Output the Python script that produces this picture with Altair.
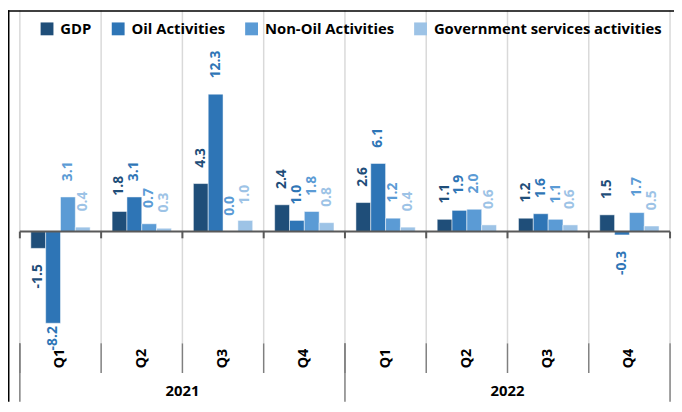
import altair as alt
import pandas as pd

years = ["2021", "2022"]
quarters = ["Q1", "Q2", "Q3", "Q4"]
series = ["GDP", "Oil Activities", "Non-Oil Activities", "Government services activities"]
gdp = [-1.5, 1.8, 4.3, 2.4, 2.6, 1.1, 1.2, 1.5]
oil = [-8.2, 3.1, 12.3, 1.0, 6.1, 1.9, 1.6, -0.3]
non_oil = [3.1, 0.7, 0.0, 1.8, 1.2, 2.0, 1.1, 1.7]
gov = [0.4, 0.3, 1.0, 0.8, 0.4, 0.6, 0.6, 0.5]
colors = ["#1f4e79", "#2e75b6", "#5b9bd5", "#9dc3e6"]

periods = [f"{y} {q}" for y in years for q in quarters]
rows = []
for s, vals in zip(series, [gdp, oil, non_oil, gov]):
    for p, v in zip(periods, vals):
        rows.append({"period": p, "series": s, "value": v})
df = pd.DataFrame(rows)
pdf = pd.DataFrame({"period": periods})
last_df = pd.DataFrame({"period": [periods[-1]]})
first_df = pd.DataFrame({"period": [f"{y} Q1" for y in years]})
mid_df = pd.DataFrame({"period": [f"{y} Q2" for y in years], "year": years})

W, H = 658, 337
FONT = "Open Sans"
x_scale = alt.Scale(domain=periods, paddingInner=0, paddingOuter=0)
y_scale = alt.Scale(domain=[-10, 19.8], nice=False, zero=False)
color_scale = alt.Scale(domain=series, range=colors)

x_axis = alt.Axis(title=None, labelExpr="split(datum.label, ' ')[1]", labelAngle=270,
                  ticks=False, domain=False, grid=False, labelPadding=5,
                  labelFontSize=14.5, labelFontWeight="bold", labelColor="#000000",
                  labelFont=FONT)


def xenc(bp=None):
    if bp is None:
        return alt.X("period:N", scale=x_scale, sort=periods, axis=x_axis)
    return alt.X("period:N", scale=x_scale, sort=periods, axis=x_axis, bandPosition=bp)


legend = alt.Legend(title=None, orient="none", legendX=20, legendY=11, direction="horizontal",
                    columns=4, symbolType="square", symbolSize=169, symbolStrokeWidth=0,
                    symbolOpacity=1, labelFontSize=15, labelFontWeight="bold", labelFont=FONT,
                    labelColor="#000000", columnPadding=19, labelOffset=6, padding=0,
                    labelLimit=400)
color = alt.Color("series:N", scale=color_scale, sort=series, legend=legend)
xoff = alt.XOffset("series:N", sort=series, scale=alt.Scale(paddingInner=0, paddingOuter=0.74))
y = alt.Y("value:Q", scale=y_scale, axis=None, stack=None)

grid = alt.Chart(pdf).mark_rule(color="#d9d9d9", strokeWidth=1.5).encode(x=xenc(0))
grid_r = alt.Chart(last_df).mark_rule(color="#d9d9d9", strokeWidth=1.5).encode(x=xenc(1))

bars = alt.Chart(df).mark_bar(stroke="white", strokeWidth=0.5).encode(
    x=xenc(), xOffset=xoff, y=y, y2=alt.datum(0), color=color)

zero = alt.Chart(last_df).mark_rule(color="#595959", strokeWidth=2).encode(
    y=alt.Y(datum=0, scale=y_scale, axis=None))
zt = alt.Chart(pdf).mark_rule(color="#595959", strokeWidth=2).encode(
    x=xenc(0), y=alt.Y(datum=0, scale=y_scale, axis=None), y2=alt.datum(-0.6))
zt_r = alt.Chart(last_df).mark_rule(color="#595959", strokeWidth=2).encode(
    x=xenc(1), y=alt.Y(datum=0, scale=y_scale, axis=None), y2=alt.datum(-0.6))

tbase = alt.Chart(df).transform_calculate(
    lbl="replace(format(datum.value, '.1f'), '\u2212', '-')"
).encode(x=xenc(), xOffset=xoff, y=y, color=color, text=alt.Text("lbl:N"))
tkw = dict(angle=270, baseline="middle", fontSize=14, fontWeight="bold", font=FONT)
t_pos = tbase.transform_filter("datum.value >= 0").mark_text(align="left", dx=16, **tkw)
t_neg = tbase.transform_filter("datum.value < 0 && datum.value > -5").mark_text(align="right", dx=-16, **tkw)
t_neg2 = tbase.transform_filter("datum.value <= -5").mark_text(align="right", dx=-3, **tkw)

qsep = alt.Chart(pdf).mark_rule(color="#7f7f7f", strokeWidth=1.5).encode(
    x=xenc(0), y=alt.value(H), y2=alt.value(H + 30))
qsep_r = alt.Chart(last_df).mark_rule(color="#7f7f7f", strokeWidth=1.5).encode(
    x=xenc(1), y=alt.value(H), y2=alt.value(H + 59))
ysep = alt.Chart(first_df).mark_rule(color="#7f7f7f", strokeWidth=1.5).encode(
    x=xenc(0), y=alt.value(H), y2=alt.value(H + 59))
ylab = alt.Chart(mid_df).mark_text(fontSize=15, fontWeight="bold", font=FONT, color="#000000",
                                   baseline="middle").encode(
    x=xenc(1), y=alt.value(H + 48), text="year:N")

left_border = alt.Chart(last_df).mark_rule(color="#000000", strokeWidth=1.5).encode(
    x=alt.value(-11.25), y=alt.value(0), y2=alt.value(H + 59))
top_border = alt.Chart(last_df).mark_rule(color="#000000", strokeWidth=1.5).encode(
    x=alt.value(-12), x2=alt.value(W + 4), y=alt.value(0.75))

chart = alt.layer(
    grid, grid_r, bars, zero, zt, zt_r, t_pos, t_neg, t_neg2,
    qsep, qsep_r, ysep, ylab, left_border, top_border
).properties(
    width=W, height=H,
    padding={"left": 12, "top": 0, "right": 4, "bottom": 59},
    autosize=alt.AutoSizeParams(type="none"),
    background="white",
).configure_view(stroke=None)

chart.save("out.html", embed_options={"renderer": "svg", "actions": False})
